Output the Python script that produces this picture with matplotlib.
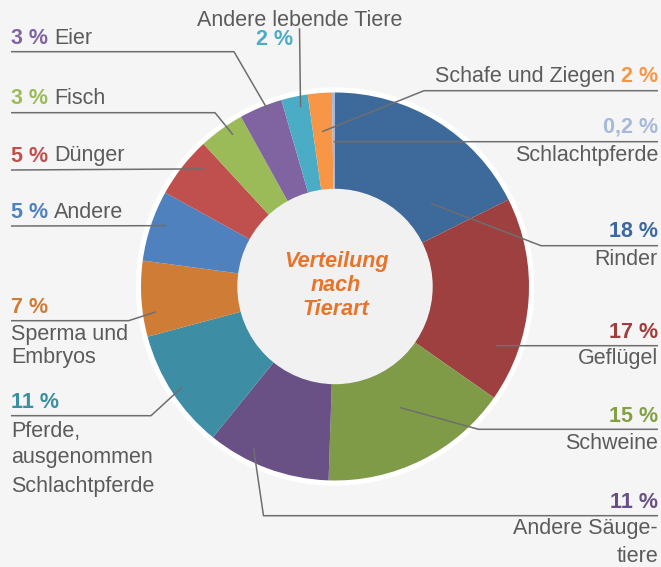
import numpy as np
import matplotlib
matplotlib.use("Agg")
import matplotlib.pyplot as plt
from matplotlib.patches import Circle

# data, clockwise from 12 o'clock
categories = ["Rinder", "Geflügel", "Schweine", "Andere Säuge-|tiere",
              "Pferde,|ausgenommen|Schlachtpferde", "Sperma und|Embryos",
              "Andere", "Dünger", "Fisch", "Eier", "Andere lebende Tiere",
              "Schafe und Ziegen", "Schlachtpferde"]
shares = [17.6, 17.1, 15.8, 10.3, 10.0, 6.3, 5.9, 5.1, 3.8, 3.6, 2.2, 2.0, 0.25]
pct_labels = ["18 %", "17 %", "15 %", "11 %", "11 %", "7 %", "5 %", "5 %",
              "3 %", "3 %", "2 %", "2 %", "0,2 %"]
colors = ["#3e6a9b", "#9e4040", "#7f9b47", "#6a5185", "#3d8ea5", "#cf7c37",
          "#4e81bd", "#c0504e", "#9bbb59", "#8064a2", "#4bacc6", "#f79646",
          "#a5b7d9"]
pct_colors = ["#3d6a9e", "#a03c3c", "#84a044", "#6a4f87", "#3a8fa3", "#d07b36",
              "#4f81bd", "#c0504d", "#9bbb59", "#8064a2", "#4bacc6", "#f79646",
              "#a7b8da"]

# label layout (pixels): kind, x, pct baseline, name baselines, line start, elbow, tip (frac of wedge, radius)
layout = [
    ("rs", 658, 236.7, [265.0], (658, 245.7), (541, 245.7), (0.775, 127)),
    ("rs", 658, 338.3, [364.0], (658, 345.7), None, (0.76, 171.5)),
    ("rs", 658, 422.3, [449.3], (658, 429.3), (478.5, 429.3), (0.47, 137.5)),
    ("rs", 658, 508.3, [534.0, 561.7], (658, 515.7), (263.5, 515.7), (0.67, 181)),
    ("ls", 11, 408.3, [436.7, 463.3, 491.7], (11, 415.7), (151, 415.7), (0.49, 183)),
    ("ls", 11, 313.3, [340.0, 363.3], (11, 320.7), (128.6, 320.7), (0.305, 181)),
    ("li", 11, 218.0, None, (11, 226), None, (0.57, 179.5)),
    ("li", 11, 161.5, None, (11, 170), None, (0.71, 175.8)),
    ("li", 11, 104.5, None, (11, 112.7), (215, 112.7), (0.64, 183)),
    ("li", 11, 44.0, None, (11, 51.7), (234, 51.7), (0.64, 186.5)),
    ("top", 299.5, 45.0, [26.0], (299.5, 28.3), None, (0.65, 182.6)),
    ("ri", 658, 82.0, None, (658, 90.7), (424, 90.7), (0.47, 155.4)),
    ("rs", 658, 132.7, [161.0], (658, 141.7), None, (0.42, 144.8)),
]

BG = "#f5f5f5"
GRAY = "#5b5b5b"
LINE = "#6e6e6e"
FS = 15.5
plt.rcParams["font.family"] = ["Liberation Sans", "DejaVu Sans"]

fig = plt.figure(figsize=(6.61, 5.67), dpi=100, facecolor=BG)
ax = fig.add_axes([0, 0, 1, 1])

cx, cy, R, r_in = 335, 286.5, 194, 97
ax.add_patch(Circle((cx, cy), R + 4.5, color="white", zorder=0))
wedges, _ = ax.pie(shares, colors=colors, startangle=-90, counterclock=True,
                   radius=R, center=(cx, cy), frame=False,
                   wedgeprops=dict(width=R - r_in, linewidth=0))
ax.add_patch(Circle((cx, cy), r_in, color="#f1f1f1", zorder=3))
ax.set_xlim(0, 661)
ax.set_ylim(567, 0)
ax.set_aspect("equal")
ax.axis("off")

ax.text(336, 266.7, "Verteilung", ha="center", va="baseline", fontsize=FS,
        style="italic", weight="bold", color="#e8732a", zorder=5)
ax.text(336, 290.7, "nach", ha="center", va="baseline", fontsize=FS,
        style="italic", weight="bold", color="#e8732a", zorder=5)
ax.text(336, 315, "Tierart", ha="center", va="baseline", fontsize=FS,
        style="italic", weight="bold", color="#e8732a", zorder=5)

gap = 4.3  # points, roughly one space
for i, (kind, x, py, nys, start, elbow, tip) in enumerate(layout):
    w = wedges[i]
    f, rr = tip
    th = np.deg2rad(w.theta1 + f * (w.theta2 - w.theta1))
    tx, ty = cx + rr * np.cos(th), cy + rr * np.sin(th)
    pts = [start] + ([elbow] if elbow else []) + [(tx, ty)]
    xs, ys = zip(*pts)
    ax.plot(xs, ys, color=LINE, lw=1.1, zorder=6, solid_capstyle="butt")

    name_lines = categories[i].split("|")
    if kind in ("rs", "ls"):
        ha = "right" if kind == "rs" else "left"
        ax.text(x, py, pct_labels[i], ha=ha, va="baseline", fontsize=FS,
                weight="bold", color=pct_colors[i])
        for line, ny in zip(name_lines, nys):
            ax.text(x, ny, line, ha=ha, va="baseline", fontsize=FS, color=GRAY)
    elif kind == "li":
        t = ax.text(x, py, pct_labels[i], ha="left", va="baseline", fontsize=FS,
                    weight="bold", color=pct_colors[i])
        ax.annotate(name_lines[0], xy=(1, 0), xycoords=t, xytext=(gap, 0),
                    textcoords="offset points", ha="left", va="bottom",
                    fontsize=FS, color=GRAY)
    elif kind == "ri":
        t = ax.text(x, py, pct_labels[i], ha="right", va="baseline", fontsize=FS,
                    weight="bold", color=pct_colors[i])
        ax.annotate(name_lines[0], xy=(0, 0), xycoords=t, xytext=(-gap, 0),
                    textcoords="offset points", ha="right", va="bottom",
                    fontsize=FS, color=GRAY)
    else:  # name above, pct below left of the line
        ax.text(x, nys[0], name_lines[0], ha="center", va="baseline",
                fontsize=FS, color=GRAY)
        ax.text(x - 6, py, pct_labels[i], ha="right", va="baseline",
                fontsize=FS, weight="bold", color=pct_colors[i])

fig.savefig("out.png", dpi=100, facecolor=BG)
